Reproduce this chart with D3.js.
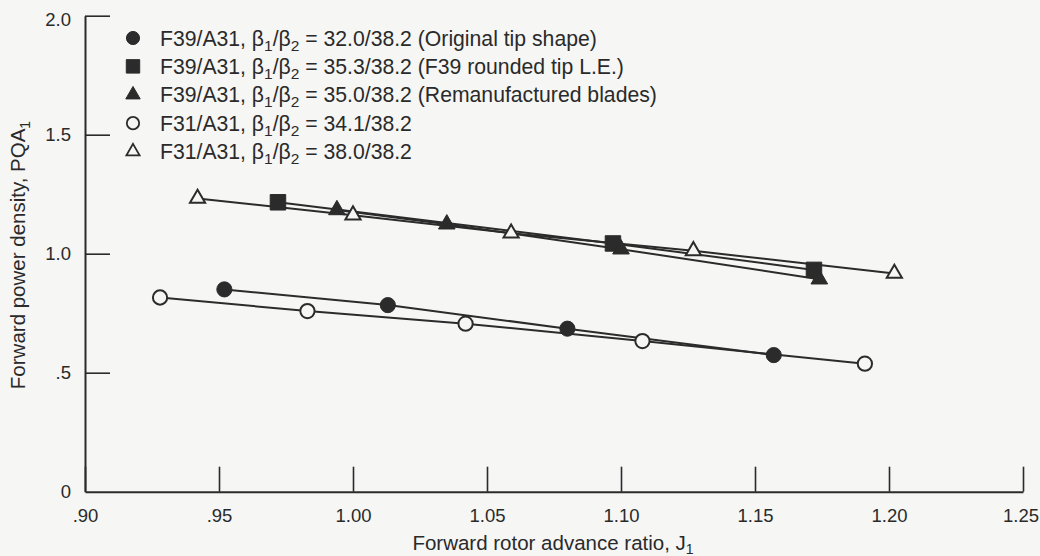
<!DOCTYPE html>
<html>
<head>
<meta charset="utf-8">
<script src="https://cdn.jsdelivr.net/npm/d3@7"></script>
<style>
  html, body { margin: 0; padding: 0; background: #f6f6f5; }
  svg { display: block; }
  text { font-family: "Liberation Sans", Arial, Helvetica, sans-serif; fill: #2a2a2a; }
</style>
</head>
<body>
<svg id="chart" width="1040" height="556"></svg>
<script>
// Forward rotor advance ratio J1 and forward power density PQA1, one pair per configuration
const jOriginal   = [0.952, 1.013, 1.080, 1.157];
const pqaOriginal = [0.850, 0.784, 0.685, 0.574];

const jRounded    = [0.972, 1.097, 1.172];
const pqaRounded  = [1.216, 1.043, 0.932];

const jReman      = [0.994, 1.035, 1.100, 1.174];
const pqaReman    = [1.184, 1.124, 1.019, 0.893];

const jF31a       = [0.928, 0.983, 1.042, 1.108, 1.191];
const pqaF31a     = [0.816, 0.759, 0.706, 0.633, 0.538];

const jF31b       = [0.942, 1.000, 1.059, 1.127, 1.202];
const pqaF31b     = [1.232, 1.162, 1.086, 1.012, 0.917];

// Legend entries: rotor pair, blade angles, note
const legendRotors = ["F39/A31", "F39/A31", "F39/A31", "F31/A31", "F31/A31"];
const legendAngles = ["32.0/38.2", "35.3/38.2", "35.0/38.2", "34.1/38.2", "38.0/38.2"];
const legendNotes  = [" (Original tip shape)", " (F39 rounded tip L.E.)", " (Remanufactured blades)", "", ""];

const xTicks = [0.90, 0.95, 1.00, 1.05, 1.10, 1.15, 1.20, 1.25];
const yTicks = [0, 0.5, 1.0, 1.5, 2.0];

const ink = "#2b2b2b";
const paper = "#f6f6f5";

const svg = d3.select("#chart");

const x = d3.scaleLinear().domain([0.90, 1.25]).range([85, 1023]);
const y = d3.scaleLinear().domain([0, 2.0]).range([491.7, 15.7]);

const fmtX = v => d3.format(".2f")(v).replace(/^0\./, ".");
const fmtY = v => v === 0 ? "0" : d3.format(".1f")(v).replace(/^0\./, ".").replace(/^\.50?$/, ".5");

// Axes: ticks point inward
const xAxis = d3.axisBottom(x).tickValues(xTicks).tickFormat(fmtX)
  .tickSizeInner(-25).tickSizeOuter(0).tickPadding(17);
const yAxis = d3.axisLeft(y).tickValues(yTicks).tickFormat(fmtY)
  .tickSizeInner(-25).tickSizeOuter(0).tickPadding(14);

const gx = svg.append("g").attr("transform", `translate(0,${y(0)})`).call(xAxis);
const gy = svg.append("g").attr("transform", `translate(${x(0.90)},0)`).call(yAxis);

[gx, gy].forEach(g => {
  g.select(".domain").attr("stroke", ink).attr("stroke-width", 2);
  g.selectAll(".tick line").attr("stroke", ink).attr("stroke-width", 1.6);
  g.selectAll(".tick text").attr("font-size", 18.5).attr("fill", ink)
    .attr("font-family", "'Liberation Sans', Arial, Helvetica, sans-serif");
});
gy.selectAll(".tick").filter(d => d === 0).select("line").remove();
// keep the last x label inside the frame
gx.selectAll(".tick").filter(d => d === 1.25).select("text").attr("dx", -2.5);
// top label sits a little below its tick
gy.selectAll(".tick").filter(d => d === 2.0).select("text").attr("dy", "0.55em");

// Axis titles
svg.append("text")
  .attr("x", 553).attr("y", 550)
  .attr("text-anchor", "middle").attr("font-size", 20.5)
  .call(t => {
    t.append("tspan").text("Forward rotor advance ratio, J");
    t.append("tspan").attr("font-size", 14).attr("dy", 4).text("1");
  });

svg.append("text")
  .attr("transform", "translate(25,255) rotate(-90)")
  .attr("text-anchor", "middle").attr("font-size", 20.5)
  .call(t => {
    t.append("tspan").text("Forward power density, PQA");
    t.append("tspan").attr("font-size", 14).attr("dy", 5).text("1");
  });

// Series definitions
const series = [
  { j: jOriginal, p: pqaOriginal, shape: d3.symbolCircle,   filled: true,  size: 180 },
  { j: jRounded,  p: pqaRounded,  shape: d3.symbolSquare,   filled: true,  size: 240 },
  { j: jReman,    p: pqaReman,    shape: d3.symbolTriangle, filled: true,  size: 120 },
  { j: jF31a,     p: pqaF31a,     shape: d3.symbolCircle,   filled: false, size: 160 },
  { j: jF31b,     p: pqaF31b,     shape: d3.symbolTriangle, filled: false, size: 100 }
];

const line = d3.line().x(d => x(d[0])).y(d => y(d[1]));

// Connecting lines first
series.forEach(s => {
  const pts = d3.zip(s.j, s.p);
  svg.append("path").datum(pts)
    .attr("d", line)
    .attr("fill", "none")
    .attr("stroke", ink)
    .attr("stroke-width", 2);
});

// Markers on top
series.forEach(s => {
  const pts = d3.zip(s.j, s.p);
  svg.append("g").selectAll("path").data(pts).join("path")
    .attr("transform", d => `translate(${x(d[0])},${y(d[1])})`)
    .attr("d", d3.symbol().type(s.shape).size(s.size))
    .attr("fill", s.filled ? ink : paper)
    .attr("stroke", ink)
    .attr("stroke-width", s.filled ? 1 : 2);
});

// Legend
const legendY = d3.scaleLinear().domain([0, 4]).range([38, 151.5]);
const legend = svg.append("g");
series.forEach((s, i) => {
  const ly = legendY(i);
  legend.append("path")
    .attr("transform", `translate(133,${ly})`)
    .attr("d", d3.symbol().type(s.shape).size(s.size * 0.75))
    .attr("fill", s.filled ? ink : paper)
    .attr("stroke", ink)
    .attr("stroke-width", s.filled ? 1 : 1.8);

  const t = legend.append("text")
    .attr("x", 160).attr("y", ly + 7.5)
    .attr("font-size", 21.2);
  t.append("tspan").text(legendRotors[i] + ", β");
  t.append("tspan").attr("font-size", 15.5).attr("dy", 5).text("1");
  t.append("tspan").attr("dy", -5).text("/β");
  t.append("tspan").attr("font-size", 15.5).attr("dy", 5).text("2");
  t.append("tspan").attr("dy", -5).text(" = " + legendAngles[i] + legendNotes[i]);
});
</script>
</body>
</html>
